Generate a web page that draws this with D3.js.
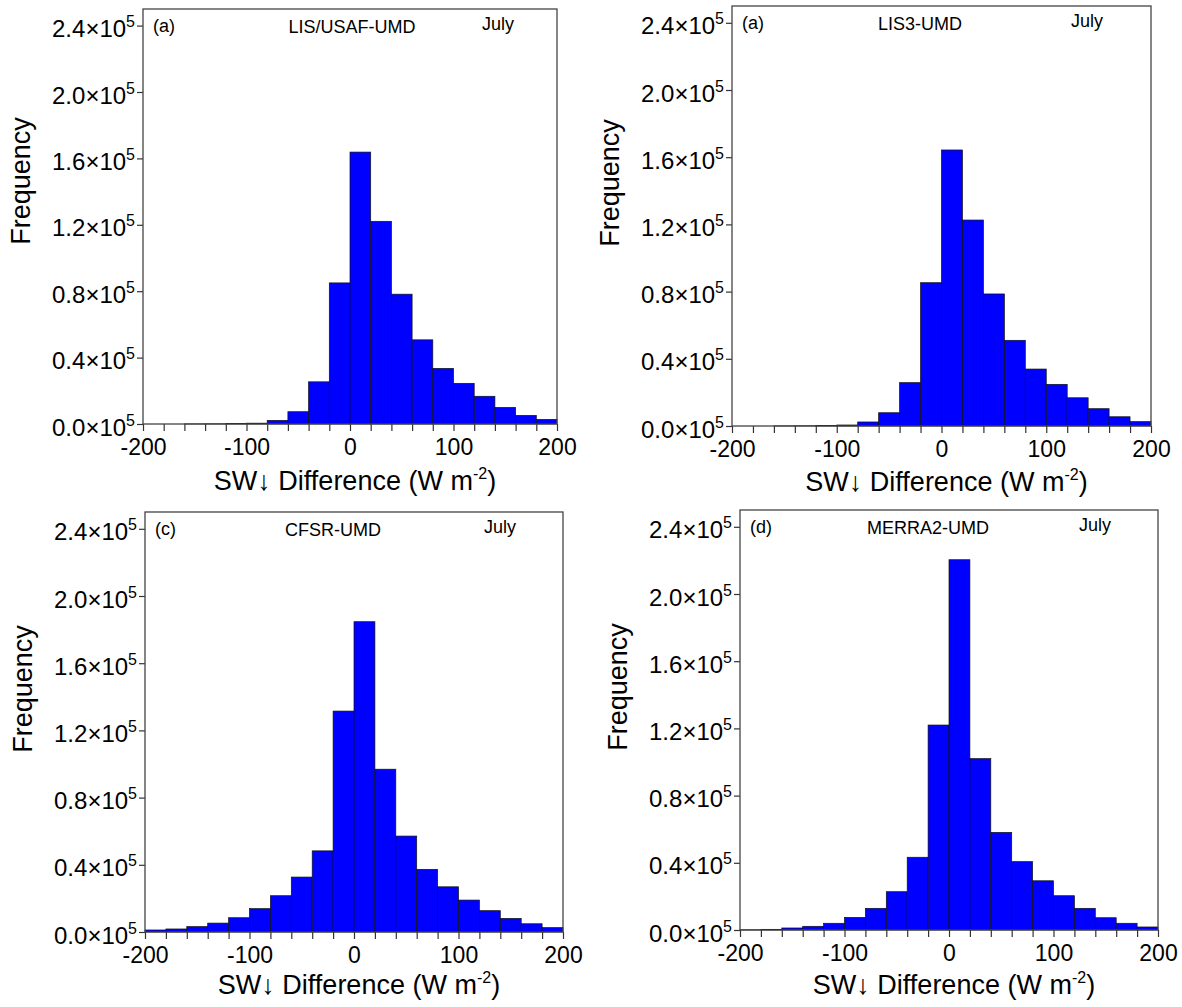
<!DOCTYPE html>
<html>
<head>
<meta charset="utf-8">
<script src="https://cdn.jsdelivr.net/npm/d3@7"></script>
<style>
  body { margin: 0; background: #fff; }
  text { font-family: "Liberation Sans", Arial, Helvetica, sans-serif; fill: #000; }
</style>
</head>
<body>
<div id="chart"></div>
<script>
// bin starts (W m-2), each bin is 20 wide
var binStarts = [-200, -180, -160, -140, -120, -100, -80, -60, -40, -20,
                 0, 20, 40, 60, 80, 100, 120, 140, 160, 180];
var binWidth = 20;

// frequencies
var usafCounts = [0, 0, 50, 100, 300, 500, 2200, 7400, 25400, 85000,
                  163800, 122100, 78200, 50700, 33500, 24500, 16700, 10000, 5200, 2800];
var lis3Counts = [0, 0, 50, 100, 300, 600, 2400, 7900, 25800, 85300,
                  164300, 122600, 78600, 51000, 33900, 24800, 16800, 10300, 5500, 2600];
var cfsrCounts = [1200, 1800, 3200, 5300, 8500, 13900, 21600, 32700, 48300, 131500,
                  184700, 96900, 57100, 37300, 26900, 19000, 12700, 8100, 4900, 2600];
var merraCounts = [100, 400, 1200, 2200, 4000, 7500, 12900, 22800, 43300, 122000,
                   220400, 102000, 58100, 40700, 29300, 20400, 12900, 7300, 4000, 1800];

var panelLabels = ["(a)", "(a)", "(c)", "(d)"];
var panelTitles = ["LIS/USAF-UMD", "LIS3-UMD", "CFSR-UMD", "MERRA2-UMD"];
var monthLabel = "July";

var xTicks = [-200, -180, -160, -140, -120, -100, -80, -60, -40, -20, 0,
              20, 40, 60, 80, 100, 120, 140, 160, 180, 200];
var xLabelled = [-200, -100, 0, 100, 200];
var yTicks = [0, 40000, 80000, 120000, 160000, 200000, 240000];
var yMax = 250000;

var series = [usafCounts, lis3Counts, cfsrCounts, merraCounts];

// plot boxes on the page
var layout = [
  {left: 143, right: 557, top: 9, bottom: 424, titleCx: 209, xTitleY: 490},
  {left: 732, right: 1151, top: 6, bottom: 426, titleCx: 188, xTitleY: 491},
  {left: 145, right: 563, top: 512, bottom: 932, titleCx: 188, xTitleY: 994},
  {left: 740, right: 1158, top: 510, bottom: 930, titleCx: 188, xTitleY: 994}
];

var svg = d3.select("#chart").append("svg")
  .attr("width", 1182)
  .attr("height", 1007);

layout.forEach(function (box, i) {
  var counts = series[i];
  var g = svg.append("g");

  var x = d3.scaleLinear().domain([-200, 200]).range([box.left, box.right]);
  var y = d3.scaleLinear().domain([0, yMax]).range([box.bottom, box.top]);

  // bars
  g.selectAll("rect.bar")
    .data(binStarts)
    .enter().append("rect")
    .attr("class", "bar")
    .attr("x", function (d) { return x(d); })
    .attr("width", function (d) { return x(d + binWidth) - x(d); })
    .attr("y", function (d, j) { return y(counts[j]); })
    .attr("height", function (d, j) { return y(0) - y(counts[j]); })
    .attr("fill", "#0000ff")
    .attr("stroke", "#111")
    .attr("stroke-width", 0.7);

  // x axis
  var xAxis = d3.axisBottom(x)
    .tickValues(xTicks)
    .tickSize(7)
    .tickSizeOuter(0)
    .tickFormat(function (d) { return xLabelled.indexOf(d) >= 0 ? String(d) : ""; });
  var xg = g.append("g")
    .attr("transform", "translate(0," + box.bottom + ")")
    .call(xAxis);
  xg.select(".domain").remove();
  xg.selectAll(".tick line").attr("stroke", "#333").attr("stroke-width", 1.2);
  xg.selectAll(".tick text")
    .attr("y", 31)
    .attr("dy", null)
    .attr("font-size", 23)
    .attr("font-family", "Liberation Sans, Arial, sans-serif")
    .attr("fill", "#000");

  // y axis, labels as n.n×10^5
  var yAxis = d3.axisLeft(y)
    .tickValues(yTicks)
    .tickSize(6)
    .tickSizeOuter(0)
    .tickFormat("");
  var yg = g.append("g")
    .attr("transform", "translate(" + box.left + ",0)")
    .call(yAxis);
  yg.select(".domain").remove();
  yg.selectAll(".tick line").attr("stroke", "#333").attr("stroke-width", 1.2);
  yg.selectAll(".tick").each(function (d) {
    var t = d3.select(this).append("text")
      .attr("x", -8)
      .attr("y", 11)
      .attr("text-anchor", "end")
      .attr("font-size", 24);
    t.append("tspan").text((d / 1e5).toFixed(1) + "\u00d710");
    t.append("tspan").attr("font-size", 16).attr("dy", -10).text("5");
  });

  // frame
  g.append("rect")
    .attr("x", box.left)
    .attr("y", box.top)
    .attr("width", box.right - box.left)
    .attr("height", box.bottom - box.top)
    .attr("fill", "none")
    .attr("stroke", "#444")
    .attr("stroke-width", 1.3);

  // annotations inside the box
  g.append("text")
    .attr("x", box.left + 10)
    .attr("y", box.top + 23)
    .attr("font-size", 18)
    .text(panelLabels[i]);
  g.append("text")
    .attr("x", box.left + box.titleCx)
    .attr("y", box.top + 24)
    .attr("text-anchor", "middle")
    .attr("font-size", 18)
    .text(panelTitles[i]);
  g.append("text")
    .attr("x", box.left + 339)
    .attr("y", box.top + 21)
    .attr("font-size", 18)
    .text(monthLabel);

  // axis titles
  g.append("text")
    .attr("transform", "translate(" + (box.left - 113) + "," + (box.bottom - 243) + ") rotate(-90)")
    .attr("text-anchor", "middle")
    .attr("font-size", 27)
    .text("Frequency");

  var xt = g.append("text")
    .attr("x", (box.left + box.right) / 2 + 5)
    .attr("y", box.xTitleY)
    .attr("text-anchor", "middle")
    .attr("font-size", 27);
  xt.append("tspan").text("SW\u2193 Difference (W m");
  xt.append("tspan").attr("font-size", 16).attr("dy", -11).text("-2");
  xt.append("tspan").attr("dy", 11).text(")");
});
</script>
</body>
</html>
